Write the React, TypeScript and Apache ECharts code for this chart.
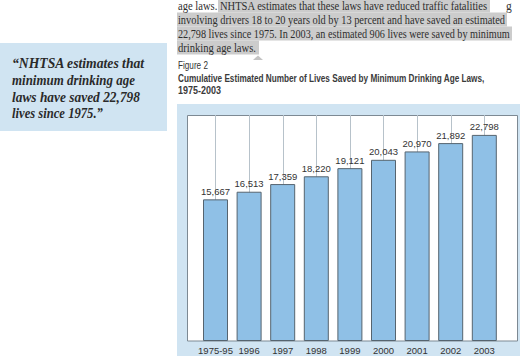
import React, { useEffect, useRef } from "react";
import * as echarts from "echarts";

const categories = ["1975-95", "1996", "1997", "1998", "1999", "2000", "2001", "2002", "2003"];
const lives = [15667, 16513, 17359, 18220, 19121, 20043, 20970, 21892, 22798];

const paragraphLines = [
  "age laws. NHTSA estimates that these laws have reduced traffic fatalities",
  "involving drivers 18 to 20 years old by 13 percent and have saved an estimated",
  "22,798 lives since 1975. In 2003, an estimated 906 lives were saved by minimum",
  "drinking age laws.",
];
const quoteLines = [
  "\u201cNHTSA estimates that",
  "minimum drinking age",
  "laws have saved 22,798",
  "lives since 1975.\u201d",
];
const figureLabel = "Figure 2";
const titleLines = [
  "Cumulative Estimated Number of Lives Saved by Minimum Drinking Age Laws,",
  "1975-2003",
];

const NARROW = "'Liberation Sans Narrow', 'Arial Narrow', 'Liberation Sans', Arial, sans-serif";
const SERIF = "'Liberation Serif', 'Times New Roman', serif";

function measure(text: string, font: string): number {
  const c = document.createElement("canvas").getContext("2d");
  if (!c) return 1;
  c.font = font;
  return c.measureText(text).width || 1;
}

function fitText(text: string, font: string, x: number, y: number, width: number, fill: string, extra: any = {}) {
  const sx = width / measure(text, font);
  return {
    type: "text",
    x,
    y,
    scaleX: sx,
    style: { text, font, fill, verticalAlign: "middle", align: "left", ...extra },
    z: 5,
  };
}

export default function App() {
  const ref = useRef<HTMLDivElement>(null);
  useEffect(() => {
    if (!ref.current) return;
    const chart = echarts.init(ref.current, undefined, { renderer: "svg" });

    const paraFont = `11.5px ${SERIF}`;
    const paraY = [6, 19.5, 33.5, 47.5];
    const paraW = [310, 327, 332, 78];
    const quoteFont = `italic bold 15px ${SERIF}`;
    const quoteY = [63, 80.5, 97, 113];
    const quoteW = [133, 123, 128, 91];

    const graphics: any[] = [
      // highlight
      { type: "rect", shape: { x: 218, y: -2, width: 272, height: 14.5 }, style: { fill: "#cccccc" }, z: 1 },
      { type: "rect", shape: { x: 177, y: 12.5, width: 330, height: 14 }, style: { fill: "#cccccc" }, z: 1 },
      { type: "rect", shape: { x: 177, y: 26.5, width: 335, height: 14 }, style: { fill: "#cccccc" }, z: 1 },
      { type: "rect", shape: { x: 177, y: 40.5, width: 82, height: 14 }, style: { fill: "#cccccc" }, z: 1 },
      { type: "polygon", shape: { points: [[253, 60], [258, 55.5], [263, 60]] }, style: { fill: "#c4c4c4" }, z: 1 },
      { type: "text", x: 506, y: 6, style: { text: "g", font: paraFont, fill: "#333", verticalAlign: "middle" }, z: 5 },
      // quote box
      { type: "rect", shape: { x: 0, y: 43, width: 167, height: 88 }, style: { fill: "#d0e4f2" }, z: 1 },
      // chart panel
      { type: "rect", shape: { x: 177, y: 104, width: 343, height: 252 }, style: { fill: "#d0e4f2" }, z: -2 },
      { type: "rect", shape: { x: 187.5, y: 115.5, width: 330, height: 225.5 }, style: { fill: "#ffffff", stroke: "#7d8993", lineWidth: 1 }, z: -1 },
      fitText(figureLabel, `10px ${NARROW}`, 178, 66, 30, "#333"),
      fitText(titleLines[0], `bold 11.5px ${NARROW}`, 178, 78, 307, "#3a3a3a"),
      fitText(titleLines[1], `bold 11.5px ${NARROW}`, 178, 90, 43, "#3a3a3a"),
    ];
    paragraphLines.forEach((t, i) => graphics.push(fitText(t, paraFont, 178, paraY[i], paraW[i], "#2e2e2e")));
    quoteLines.forEach((t, i) => graphics.push(fitText(t, quoteFont, 12, quoteY[i], quoteW[i], "#2a2a2a")));

    chart.setOption({
      animation: false,
      graphic: graphics,
      grid: [
        { left: 198.7, right: 18.9, top: 115, bottom: 15 },
        { left: 215.5, right: 35.5, top: 115, bottom: 15 },
      ],
      xAxis: [
        {
          type: "category",
          gridIndex: 0,
          data: categories,
          axisLine: { show: false },
          axisTick: { show: false },
          splitLine: { show: false },
          axisLabel: { interval: 0, fontFamily: NARROW, fontSize: 9.5, color: "#333", margin: 4 },
        },
        {
          type: "category",
          gridIndex: 1,
          data: categories,
          boundaryGap: false,
          axisLine: { show: false },
          axisTick: { show: false, interval: 0 },
          axisLabel: { show: false, interval: 0 },
          splitLine: { show: true, interval: 0, lineStyle: { color: "#b7c2ca", width: 1 } },
        },
      ],
      yAxis: [
        { type: "value", gridIndex: 0, min: 0, max: 25000, show: false },
        { type: "value", gridIndex: 1, min: 0, max: 25000, show: false },
      ],
      series: [
        {
          type: "bar",
          xAxisIndex: 0,
          yAxisIndex: 0,
          data: lives,
          barWidth: 25,
          itemStyle: { color: "#8fc0e6", borderColor: "#56646f", borderWidth: 1 },
          label: {
            show: true,
            position: "top",
            distance: 3,
            fontFamily: NARROW,
            fontSize: 9.5,
            color: "#333",
            formatter: (p: any) => Number(p.value).toLocaleString("en-US"),
          },
        },
      ],
    });
    return () => chart.dispose();
  }, []);
  return <div ref={ref} style={{ position: "absolute", left: 0, top: 0, width: 520, height: 356 }} />;
}
